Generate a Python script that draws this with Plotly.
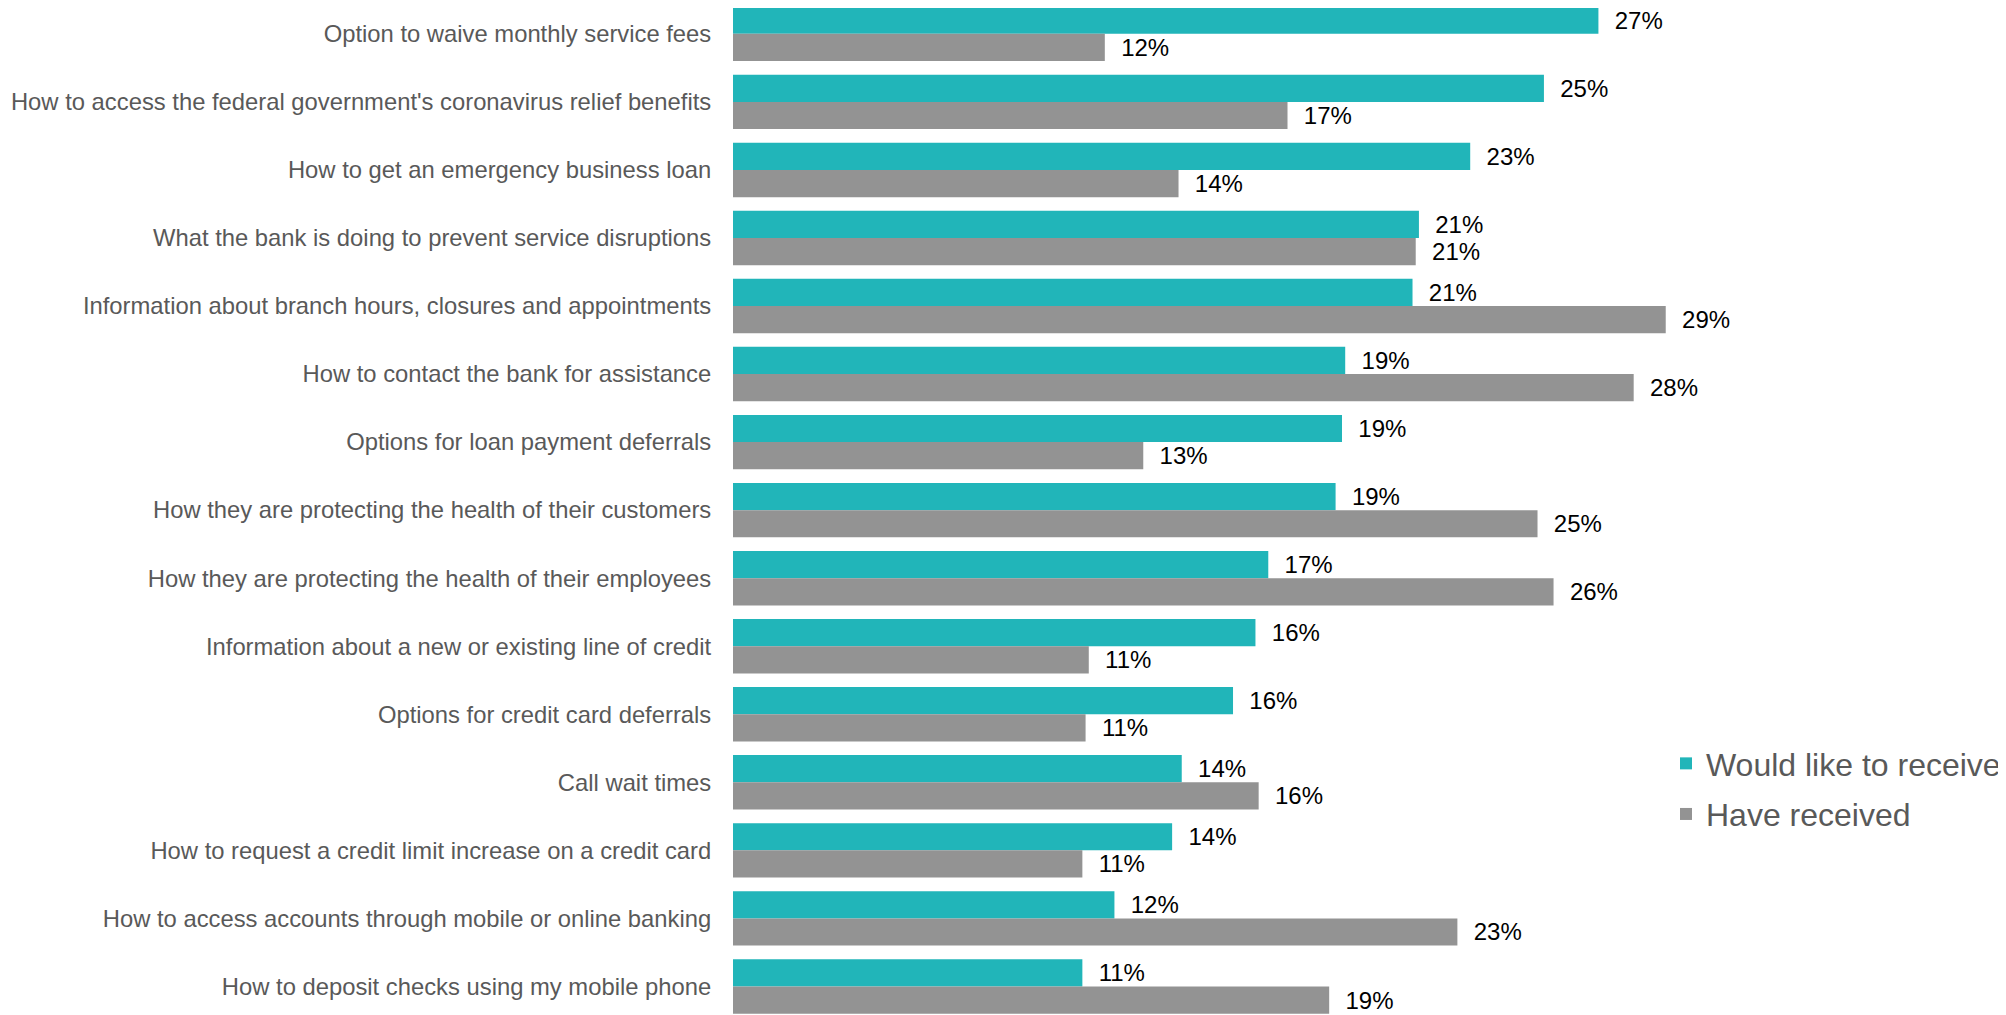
import plotly.graph_objects as go

categories = [
    "Option to waive monthly service fees",
    "How to access the federal government's coronavirus relief benefits",
    "How to get an emergency business loan",
    "What the bank is doing to prevent service disruptions",
    "Information about branch hours, closures and appointments",
    "How to contact the bank for assistance",
    "Options for loan payment deferrals",
    "How they are protecting the health of their customers",
    "How they are protecting the health of their employees",
    "Information about a new or existing line of credit",
    "Options for credit card deferrals",
    "Call wait times",
    "How to request a credit limit increase on a credit card",
    "How to access accounts through mobile or online banking",
    "How to deposit checks using my mobile phone",
]
would_like = [27.0, 25.3, 23.0, 21.4, 21.2, 19.1, 19.0, 18.8, 16.7, 16.3, 15.6, 14.0, 13.7, 11.9, 10.9]
have_received = [11.6, 17.3, 13.9, 21.3, 29.1, 28.1, 12.8, 25.1, 25.6, 11.1, 11.0, 16.4, 10.9, 22.6, 18.6]

series_names = ["Would like to receive", "Have received"]
colors = ["#21B5B9", "#939393"]

FONT = "Liberation Sans, Arial, sans-serif"
NB = "\u00a0\u00a0"

fig = go.Figure()
for name, vals, col in zip(series_names, [would_like, have_received], colors):
    fig.add_trace(go.Bar(
        y=categories, x=vals, orientation="h", name=name,
        marker=dict(color=col, line=dict(width=0)),
        texttemplate=NB + "%{x:.0f}%", textposition="outside",
        textfont=dict(family=FONT, size=24, color="#000000"),
        constraintext="none", cliponaxis=False,
        legendgroup=name, hoverinfo="skip",
    ))

fig.update_layout(
    width=1998, height=1007,
    margin=dict(l=725, r=49, t=0, b=0),
    paper_bgcolor="white", plot_bgcolor="white",
    barmode="group", bargap=0.2, bargroupgap=0,
    font=dict(family=FONT, color="#595959"),
    legend=dict(
        x=0.766, y=0.277, xanchor="left", yanchor="top",
        font=dict(family=FONT, size=32, color="#595959"),
        traceorder="grouped", tracegroupgap=6,
        bgcolor="rgba(0,0,0,0)",
    ),
    showlegend=True,
)
fig.update_xaxes(range=[0, 38], showgrid=False, zeroline=False,
                 showticklabels=False, showline=False, ticks="")
fig.update_yaxes(range=[14.42, -0.38], showgrid=False, zeroline=False, showline=False,
                 ticks="outside", ticklen=16, tickcolor="rgba(0,0,0,0)",
                 tickfont=dict(family=FONT, size=23.8, color="#595959"))

fig.write_html("out.html")
